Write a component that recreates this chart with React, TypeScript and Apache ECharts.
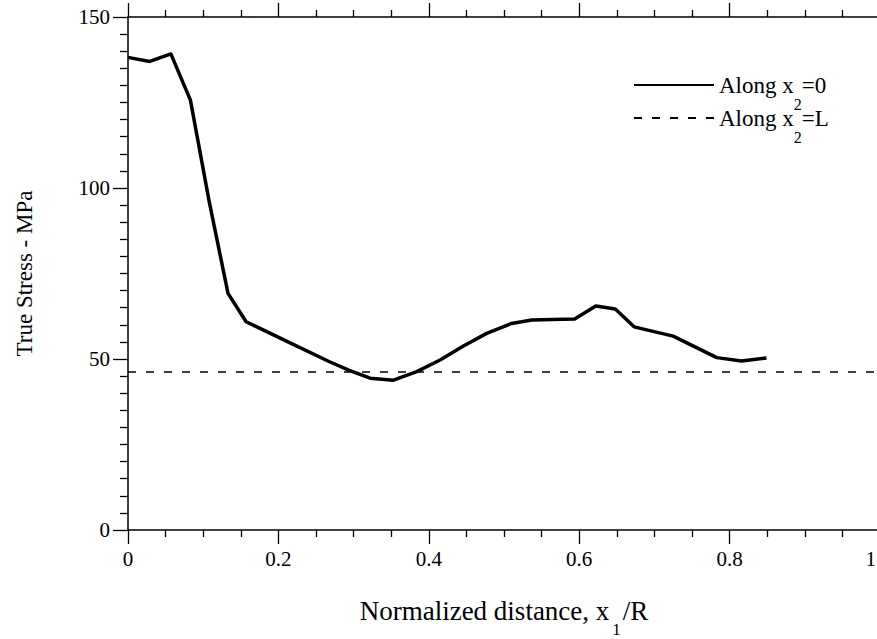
import React, { useEffect, useRef } from "react";
import * as echarts from "echarts";

// x1/R positions of the solid curve (along x2 = 0)
const xAlong0: number[] = [0, 0.029, 0.057, 0.083, 0.108, 0.133, 0.157, 0.21, 0.268, 0.295, 0.322, 0.353, 0.384, 0.415, 0.446, 0.477, 0.51, 0.537, 0.594, 0.622, 0.648, 0.673, 0.725, 0.783, 0.816, 0.849];
// True stress (MPa) along x2 = 0
const yAlong0: number[] = [138.2, 137.0, 139.2, 125.7, 96, 69.2, 60.9, 55.3, 49.2, 46.6, 44.4, 43.8, 46.3, 49.7, 53.8, 57.5, 60.4, 61.4, 61.7, 65.5, 64.6, 59.4, 56.7, 50.4, 49.4, 50.3];
// dashed line (along x2 = L)
const xAlongL: number[] = [0, 1];
const yAlongL: number[] = [46.2, 46.2];

const xTicks = { min: 0, max: 1, step: 0.2 };
const yTicks = { min: 0, max: 150, step: 50 };

const SERIF = "'Liberation Serif', 'Times New Roman', serif";

const NAME0 = "Along x2=0";
const NAMEL = "Along x2=L";
const legendText: Record<string, string> = {
  [NAME0]: "{m|Along x}{s|2}{m|=0}",
  [NAMEL]: "{m|Along x}{s|2}{m|=L}",
};

export default function App() {
  const ref = useRef<HTMLDivElement>(null);
  useEffect(() => {
    if (!ref.current) return;
    const chart = echarts.init(ref.current, undefined, { renderer: "svg" });
    const legendRich = {
      m: { fontFamily: SERIF, fontSize: 23, lineHeight: 26, color: "#000" },
      s: { fontFamily: SERIF, fontSize: 16, lineHeight: 16, color: "#000", verticalAlign: "top", padding: [24, 0, 0, 0] },
    };
    const mkLegend = (name: string, top: number) => ({
      data: [name],
      orient: "vertical",
      left: 633,
      top,
      padding: 0,
      itemWidth: 80,
      itemHeight: 14,
      selectedMode: false,
      itemStyle: { color: "rgba(0,0,0,0)", borderColor: "rgba(0,0,0,0)", borderWidth: 0 },
      formatter: (n: string) => legendText[n],
      textStyle: { fontFamily: SERIF, rich: legendRich },
    });
    const axisCommonX = {
      type: "value",
      min: xTicks.min,
      max: xTicks.max,
      interval: xTicks.step,
      splitLine: { show: false },
      axisLine: { show: true, onZero: false, lineStyle: { color: "#000", width: 1.5 } },
      axisTick: { show: true, inside: true, length: -14, lineStyle: { color: "#000", width: 1.3 } },
      minorTick: { show: true, splitNumber: 4, length: -7, lineStyle: { color: "#000", width: 1.3 } },
      minorSplitLine: { show: false },
    };
    const axisCommonY = {
      type: "value",
      min: yTicks.min,
      max: yTicks.max,
      interval: yTicks.step,
      splitLine: { show: false },
      axisLine: { show: true, onZero: false, lineStyle: { color: "#000", width: 1.5 } },
      axisTick: { show: true, inside: true, length: -15, lineStyle: { color: "#000", width: 1.3 } },
      minorTick: { show: true, splitNumber: 10, length: -8, lineStyle: { color: "#000", width: 1.3 } },
      minorSplitLine: { show: false },
    };
    chart.setOption({
      animation: false,
      backgroundColor: "#fff",
      textStyle: { fontFamily: SERIF, color: "#000" },
      grid: { left: 128, top: 17, width: 752, height: 513, containLabel: false, outerBoundsMode: "none" },
      legend: [mkLegend(NAME0, 72), mkLegend(NAMEL, 105)],
      xAxis: [
        {
          ...axisCommonX,
          position: "bottom",
          axisLabel: {
            show: true,
            fontFamily: SERIF,
            fontSize: 21,
            color: "#000",
            margin: 18,
            alignMaxLabel: "right",
            formatter: (v: number) => (v === xTicks.max ? "{r|" + v + "}" : String(v)),
            rich: { r: { fontFamily: SERIF, fontSize: 21, color: "#000", padding: [0, 4, 0, 0] } },
          },
          name: "{m|Normalized distance, x}{s|1}{m|/R}",
          nameLocation: "middle",
          nameGap: 67,
          nameTextStyle: {
            fontFamily: SERIF,
            rich: {
              m: { fontFamily: SERIF, fontSize: 27, lineHeight: 30, color: "#000", verticalAlign: "top" },
              s: { fontFamily: SERIF, fontSize: 17, lineHeight: 17, color: "#000", verticalAlign: "top", padding: [24, 2, 0, 3] },
            },
          },
        },
        { ...axisCommonX, position: "top", axisLabel: { show: false } },
      ],
      yAxis: [
        {
          ...axisCommonY,
          position: "left",
          axisLabel: { show: true, fontFamily: SERIF, fontSize: 21, color: "#000", margin: 18 },
          name: "True Stress - MPa",
          nameLocation: "middle",
          nameGap: 92,
          nameTextStyle: { fontFamily: SERIF, fontSize: 23, color: "#000" },
        },
        { ...axisCommonY, position: "right", axisLabel: { show: false } },
      ],
      series: [
        {
          name: NAME0,
          type: "line",
          xAxisIndex: 0,
          yAxisIndex: 0,
          symbol: "none",
          data: xAlong0.map((x, i) => [x, yAlong0[i]]),
          lineStyle: { color: "#000", width: 3.5, join: "round" },
          itemStyle: { color: "#000" },
        },
        {
          name: NAMEL,
          type: "line",
          xAxisIndex: 0,
          yAxisIndex: 0,
          symbol: "none",
          data: xAlongL.map((x, i) => [x, yAlongL[i]]),
          lineStyle: { color: "#000", width: 1.3, type: [8, 10] },
          itemStyle: { color: "#000" },
        },
      ],
    });
    return () => chart.dispose();
  }, []);
  return <div ref={ref} style={{ position: "absolute", left: 0, top: 0, width: 877, height: 639 }} />;
}
